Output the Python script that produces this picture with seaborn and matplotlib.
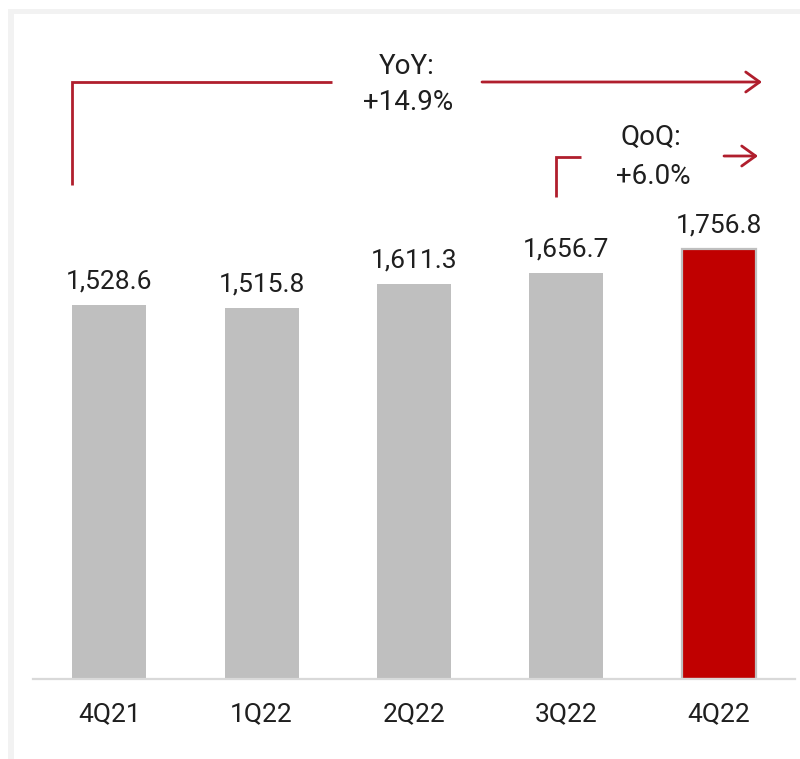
import matplotlib
matplotlib.use("Agg")
import matplotlib.pyplot as plt
import seaborn as sns
import pandas as pd
from matplotlib.patches import Rectangle

quarters = ["4Q21", "1Q22", "2Q22", "3Q22", "4Q22"]
values = [1528.6, 1515.8, 1611.3, 1656.7, 1756.8]
value_labels = ["1,528.6", "1,515.8", "1,611.3", "1,656.7", "1,756.8"]
bar_colors = ["#bfbfbf", "#bfbfbf", "#bfbfbf", "#bfbfbf", "#c00000"]
yoy_label = ["YoY:", "+14.9%"]
qoq_label = ["QoQ:", "+6.0%"]

sns.set_theme(style="white")
plt.rcParams["font.family"] = ["Roboto", "DejaVu Sans"]

W, H = 800, 759
fig = plt.figure(figsize=(W / 100, H / 100), dpi=100)
fig.patch.set_facecolor("white")

# light gray frame (left + top bands)
frame_c = "#f2f2f2"
fig.add_artist(Rectangle((8 / W, 0), 6 / W, 1 - 9 / H, transform=fig.transFigure,
                         color=frame_c, lw=0, zorder=0))
fig.add_artist(Rectangle((8 / W, 1 - 14 / H), 1, 5 / H, transform=fig.transFigure,
                         color=frame_c, lw=0, zorder=0))

L, R, B, T = 33, 795, 679, 13
ax = fig.add_axes([L / W, 1 - B / H, (R - L) / W, (B - T) / H])
ax.set_facecolor("none")

YMAX = 2720
df = pd.DataFrame({"quarter": quarters, "value": values})
sns.barplot(data=df, x="quarter", y="value", hue="quarter", palette=bar_colors,
            width=0.485, legend=False, ax=ax, saturation=1, linewidth=0)
ax.patches[-1].set_edgecolor("#bfbfbf")
ax.patches[-1].set_linewidth(1.6)

txt_c = "#1f1f1f"
FS = 19

ax.set_xlim(-0.5, 4.5)
ax.set_ylim(0, YMAX)
ax.set_xlabel("")
ax.set_ylabel("")
ax.set_yticks([])
for s in ["left", "right", "top"]:
    ax.spines[s].set_visible(False)
ax.spines["bottom"].set_color("#d9d9d9")
ax.spines["bottom"].set_linewidth(1.6)
ax.tick_params(axis="x", length=0, pad=17, labelsize=FS, labelcolor=txt_c)

for i, (v, lab) in enumerate(zip(values, value_labels)):
    ax.annotate(lab, (i, v), xytext=(0, 12), textcoords="offset points",
                ha="center", va="baseline", fontsize=FS, color=txt_c)

# helpers: pixel -> data
def xd(px):
    return (px - L) / (R - L) * 5 - 0.5

def yd(py):
    return (B - py) / (B - T) * YMAX

red = "#b01e2d"
lw = 2.0
# YoY bracket
ax.plot([xd(72), xd(72), xd(332)], [yd(185), yd(82), yd(82)], color=red, lw=lw,
        solid_capstyle="butt", solid_joinstyle="miter")
ax.annotate("", xy=(xd(762), yd(82)), xytext=(xd(482), yd(82)),
            arrowprops=dict(arrowstyle="->,head_length=0.5,head_width=0.36",
                            mutation_scale=20, lw=lw, color=red, shrinkA=0, shrinkB=0))
ax.text(xd(407), yd(67), yoy_label[0], ha="center", va="center", fontsize=20, color=txt_c)
ax.text(xd(408), yd(103), yoy_label[1], ha="center", va="center", fontsize=20, color=txt_c)

# QoQ bracket
ax.plot([xd(556), xd(556), xd(581)], [yd(197), yd(157), yd(157)], color=red, lw=lw,
        solid_capstyle="butt", solid_joinstyle="miter")
ax.annotate("", xy=(xd(758), yd(156)), xytext=(xd(724), yd(156)),
            arrowprops=dict(arrowstyle="->,head_length=0.5,head_width=0.36",
                            mutation_scale=20, lw=lw, color=red, shrinkA=0, shrinkB=0))
ax.text(xd(651), yd(137), qoq_label[0], ha="center", va="center", fontsize=20, color=txt_c)
ax.text(xd(653), yd(177), qoq_label[1], ha="center", va="center", fontsize=20, color=txt_c)

fig.savefig("out.png", dpi=100, facecolor="white")
